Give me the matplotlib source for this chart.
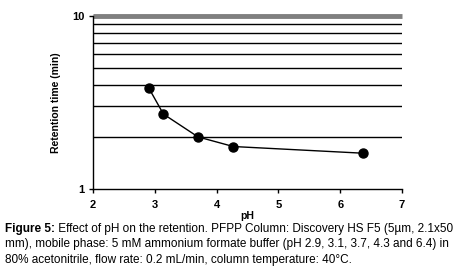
import matplotlib
matplotlib.use('Agg')
from matplotlib import pyplot as plt
from matplotlib.ticker import FixedLocator, NullFormatter

plt.rcParams['font.family'] = ['Liberation Sans', 'DejaVu Sans']

# data
ph = [2.9, 3.14, 3.7, 4.27, 6.37]
retention = [3.85, 2.71, 2.0, 1.76, 1.61]
x_ticks = [2, 3, 4, 5, 6, 7]
grid_levels = [2, 3, 4, 5, 6, 7, 8, 9]

caption_bold = 'Figure 5:'
caption_rest = ' Effect of pH on the retention. PFPP Column: Discovery HS F5 (5µm, 2.1x50'
caption_lines = ['mm), mobile phase: 5 mM ammonium formate buffer (pH 2.9, 3.1, 3.7, 4.3 and 6.4) in',
                 '80% acetonitrile, flow rate: 0.2 mL/min, column temperature: 40°C.']

fig = plt.figure(figsize=(4.61, 2.79), dpi=100)
ax = fig.add_axes([0.2017, 0.3226, 0.6703, 0.6201])

ax.set_yscale('log')
ax.set_xlim(2, 7)
ax.set_ylim(1, 10)

for g in grid_levels:
    ax.axhline(g, color='black', lw=1.0, zorder=1)
ax.axhline(10, color='#808080', lw=3.5, zorder=1, clip_on=False, solid_capstyle='butt')

ax.plot(ph, retention, color='black', lw=1.0, marker='o', ms=6.5, zorder=3)

ax.spines['top'].set_visible(False)
ax.spines['right'].set_visible(False)
ax.spines['left'].set_linewidth(1.0)
ax.spines['bottom'].set_linewidth(1.0)

ax.set_xticks(x_ticks)
ax.set_xticklabels([str(t) for t in x_ticks], fontweight='bold', fontsize=8)
ax.yaxis.set_major_locator(FixedLocator([1, 10]))
ax.set_yticklabels(['1', '10'], fontweight='bold', fontsize=8)
ax.yaxis.set_minor_locator(FixedLocator([]))
ax.yaxis.set_minor_formatter(NullFormatter())
ax.tick_params(direction='out', length=3, width=1, pad=3)
ax.tick_params(axis='x', pad=5)

ax.set_xlabel('pH', fontweight='bold', fontsize=7.5, labelpad=1)
ax.set_ylabel('Retention time (min)', fontweight='bold', fontsize=7.5, labelpad=8)

# caption
fs = 8.5
y0 = 1 - 229 / 279
t1 = fig.text(0.01, y0, caption_bold, fontweight='bold', fontsize=fs, va='center')
r = fig.canvas.get_renderer()
bb = t1.get_window_extent(renderer=r)
fig.text(bb.x1 / fig.bbox.width, y0, caption_rest, fontsize=fs, va='center')
for i, line in enumerate(caption_lines):
    fig.text(0.01, y0 - (i + 1) * 15.5 / 279, line, fontsize=fs, va='center')

fig.savefig('out.png', dpi=100)
